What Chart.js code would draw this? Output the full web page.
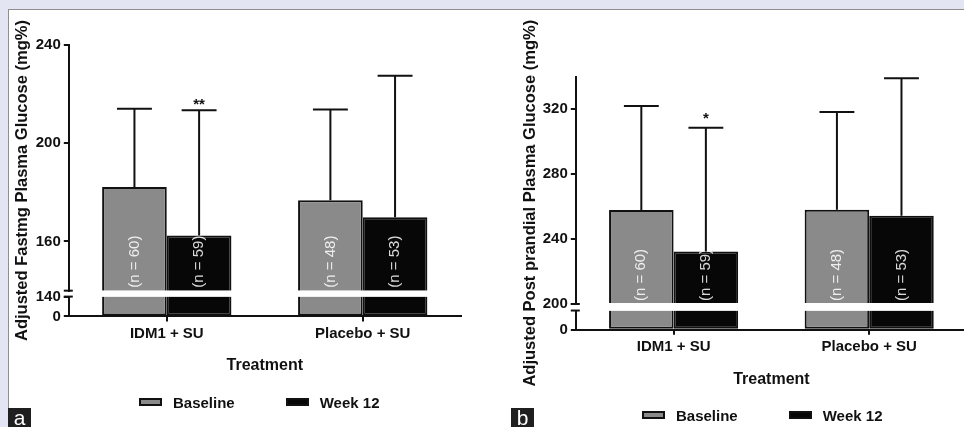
<!DOCTYPE html>
<html>
<head>
<meta charset="utf-8">
<script src="https://cdn.jsdelivr.net/npm/chart.js@4.4.1/dist/chart.umd.min.js"></script>
<style>
  html, body { margin: 0; padding: 0; }
  body { width: 964px; height: 427px; position: relative; overflow: hidden; background: #e3e6f2;
         font-family: "Liberation Sans", Arial, sans-serif; }
  .sheet { position: absolute; left: 8px; top: 9px; right: 0; bottom: 0; background: #fff;
           border-left: 1px solid #8e8e8e; border-top: 1px solid #8e8e8e; }
  .panel { position: absolute; top: 10px; height: 417px; }
  #wrapA { left: 9px; width: 471px; }
  #wrapB { left: 486px; width: 481px; }
  .tag { position: absolute; top: 408px; height: 19px; width: 23px; background: #1f1f1f; color: #fff;
         font-size: 21px; line-height: 19px; text-align: center; }
  .legend { position: absolute; height: 18px; display: flex; align-items: center;
            font-weight: bold; font-size: 15px; color: #111; }
  .legend .item { display: flex; align-items: center; margin-right: 51px; }
  .legend .box { width: 19px; height: 4px; border: 2px solid #111; margin-right: 11px; }
</style>
</head>
<body>
<div class="sheet"></div>
<div class="panel" id="wrapA"><canvas id="chartA"></canvas></div>
<div class="panel" id="wrapB"><canvas id="chartB"></canvas></div>
<div class="legend" id="legendA" style="left:139px; top:393px;"></div>
<div class="legend" id="legendB" style="left:642px; top:406px;"></div>
<div class="tag" style="left:8px;">a</div>
<div class="tag" style="left:511px;">b</div>
<script>
const categories = ['IDM1 + SU', 'Placebo + SU'];
const seriesNames = ['Baseline', 'Week 12'];
const nBaseline = [60, 48];
const nWeek12 = [59, 53];

// a: fasting plasma glucose
const fpgBaseline = [182.1, 176.8];
const fpgBaselineSD = [31.9, 36.9];
const fpgWeek12 = [162.4, 169.8];
const fpgWeek12SD = [51.0, 57.6];
const fpgSig = ['**', ''];
const fpgTicksUpper = [160, 200, 240];
const fpgTicksLower = [0, 140];

// b: post prandial plasma glucose
const ppgBaseline = [257.9, 258.0];
const ppgBaselineSD = [64.1, 60.2];
const ppgWeek12 = [232.4, 254.4];
const ppgWeek12SD = [76.2, 84.7];
const ppgSig = ['*', ''];
const ppgTicksUpper = [200, 240, 280, 320];
const ppgTicksLower = [0];

const barColors = ['#8a8a8a', '#070707'];
const ink = '#111';

Chart.defaults.font.family = '"Liberation Sans", Arial, sans-serif';
Chart.defaults.color = ink;

// error bars, n labels and significance stars on the upper bars
const barNotes = {
  id: 'barNotes',
  afterDatasetsDraw(chart, args, opts) {
    const ctx = chart.ctx;
    const yTop = chart.scales.yTop;
    chart.data.datasets.forEach((ds, i) => {
      if (!ds.sd) return;
      const meta = chart.getDatasetMeta(i);
      meta.data.forEach((bar, j) => {
        ctx.save();
        ctx.translate(bar.x, yTop.bottom - 3);
        ctx.rotate(-Math.PI / 2);
        ctx.font = '15px "Liberation Sans", Arial, sans-serif';
        ctx.fillStyle = 'rgba(255,255,255,0.85)';
        ctx.textAlign = 'left';
        ctx.textBaseline = 'middle';
        ctx.fillText('(n = ' + ds.n[j] + ')', 0, 0);
        ctx.restore();

        const top = yTop.getPixelForValue(ds.data[j] + ds.sd[j]);
        const half = bar.width * 0.27;
        ctx.save();
        ctx.strokeStyle = ink;
        ctx.lineWidth = 2;
        ctx.beginPath();
        ctx.moveTo(bar.x, bar.y);
        ctx.lineTo(bar.x, top);
        ctx.moveTo(bar.x - half, top);
        ctx.lineTo(bar.x + half, top);
        ctx.stroke();
        if (ds.sig && ds.sig[j]) {
          ctx.font = 'bold 15px "Liberation Sans", Arial, sans-serif';
          ctx.fillStyle = ink;
          ctx.textAlign = 'center';
          ctx.textBaseline = 'alphabetic';
          ctx.fillText(ds.sig[j], bar.x, top - opts.sigGap);
        }
        ctx.restore();
      });
    });
  }
};

// little "=" marks where the y axis is broken
const breakMarks = {
  id: 'breakMarks',
  afterDraw(chart) {
    const {ctx, scales} = chart;
    const x = scales.yTop.right;
    ctx.save();
    ctx.strokeStyle = ink;
    ctx.lineWidth = 2;
    [scales.yTop.bottom, scales.yBot.top].forEach(y => {
      ctx.beginPath();
      ctx.moveTo(x - 5, y);
      ctx.lineTo(x + 4, y);
      ctx.stroke();
    });
    ctx.restore();
  }
};

function makePanel(canvasId, legendId, p) {
  const lowerPart = vals => vals.map(v => Math.min(v, p.breakAt));
  const common = { borderColor: ink, borderWidth: 2, categoryPercentage: 0.66, barPercentage: 1 };
  const datasets = [
    { ...common, label: seriesNames[0], data: p.baseline, sd: p.baselineSD, n: nBaseline,
      backgroundColor: barColors[0], yAxisID: 'yTop', stack: 's0', base: p.breakAt, borderSkipped: 'start' },
    { ...common, label: seriesNames[1], data: p.week12, sd: p.week12SD, n: nWeek12, sig: p.sig,
      backgroundColor: barColors[1], yAxisID: 'yTop', stack: 's1', base: p.breakAt, borderSkipped: 'start' },
    { ...common, label: seriesNames[0], data: lowerPart(p.baseline),
      backgroundColor: barColors[0], yAxisID: 'yBot', stack: 's0', borderSkipped: 'end' },
    { ...common, label: seriesNames[1], data: lowerPart(p.week12),
      backgroundColor: barColors[1], yAxisID: 'yBot', stack: 's1', borderSkipped: 'end' }
  ];

  const tickFont = { size: 15, weight: 'bold' };
  const yPart = (min, max, ticks, weight) => ({
    type: 'linear', position: 'left', stack: 'v', stackWeight: weight, stacked: false,
    min: min, max: max, beginAtZero: false,
    afterBuildTicks: s => { s.ticks = ticks.map(v => ({ value: v })); },
    afterFit: s => { s.width = p.axisWidth; },
    grid: { drawOnChartArea: false, tickLength: 5, color: ink, lineWidth: 2 },
    border: { color: ink, width: 2 },
    ticks: { font: tickFont, color: ink, padding: 3, autoSkip: false }
  });

  const chart = new Chart(document.getElementById(canvasId), {
    type: 'bar',
    data: { labels: categories, datasets: datasets },
    options: {
      responsive: true,
      maintainAspectRatio: false,
      animation: false,
      layout: { padding: p.padding },
      plugins: {
        legend: { display: false },
        tooltip: { enabled: false },
        barNotes: { sigGap: p.sigGap }
      },
      scales: {
        x: {
          grid: { offset: false, drawOnChartArea: false, tickLength: 5, color: ink, lineWidth: 2 },
          border: { color: ink, width: 2 },
          ticks: { font: tickFont, color: ink, padding: 3 },
          title: { display: true, text: 'Treatment', font: { size: 16, weight: 'bold' }, color: ink,
                   padding: { top: 11, bottom: 2 } }
        },
        yBot: yPart(0, p.breakAt, p.ticksLower, p.weights[2]),
        yGap: {
          type: 'linear', position: 'left', stack: 'v', stackWeight: p.weights[1], min: 0, max: 1,
          grid: { display: false, drawTicks: false }, border: { display: false }, ticks: { display: false }
        },
        yTop: yPart(p.breakAt, p.upperMax, p.ticksUpper, p.weights[0]),
        yTitle: {
          type: 'linear', position: 'left', weight: 10, min: 0, max: 1,
          grid: { display: false, drawTicks: false }, border: { display: false }, ticks: { display: false },
          title: { display: true, text: p.yTitle, font: { size: 16.5, weight: 'bold' }, color: ink,
                   padding: { top: p.titlePad, bottom: 2 } }
        }
      }
    },
    plugins: [barNotes, breakMarks]
  });

  // html legend from the upper datasets
  const legend = document.getElementById(legendId);
  chart.data.datasets.slice(0, 2).forEach(ds => {
    const item = document.createElement('span');
    item.className = 'item';
    const box = document.createElement('span');
    box.className = 'box';
    box.style.background = ds.backgroundColor;
    const txt = document.createElement('span');
    txt.textContent = ds.label;
    item.appendChild(box);
    item.appendChild(txt);
    legend.appendChild(item);
  });
  return chart;
}

makePanel('chartA', 'legendA', {
  baseline: fpgBaseline, baselineSD: fpgBaselineSD,
  week12: fpgWeek12, week12SD: fpgWeek12SD, sig: fpgSig,
  ticksUpper: fpgTicksUpper, ticksLower: fpgTicksLower,
  breakAt: 140, upperMax: 240, weights: [248.6, 6, 20],
  yTitle: 'Adjusted Fastmg Plasma Glucose (mg%)', titlePad: 0,
  axisWidth: 34, sigGap: 1,
  padding: { left: 4, top: 34.7, right: 19.3, bottom: 49.4 }
});

makePanel('chartB', 'legendB', {
  baseline: ppgBaseline, baselineSD: ppgBaselineSD,
  week12: ppgWeek12, week12SD: ppgWeek12SD, sig: ppgSig,
  ticksUpper: ppgTicksUpper, ticksLower: ppgTicksLower,
  breakAt: 200, upperMax: 340, weights: [230, 6.6, 19.4],
  yTitle: 'Adjusted Post prandial Plasma Glucose (mg%)', titlePad: 4,
  axisWidth: 33, sigGap: 5,
  padding: { left: 31, top: 66.7, right: 0, bottom: 36.1 }
});
</script>
</body>
</html>
